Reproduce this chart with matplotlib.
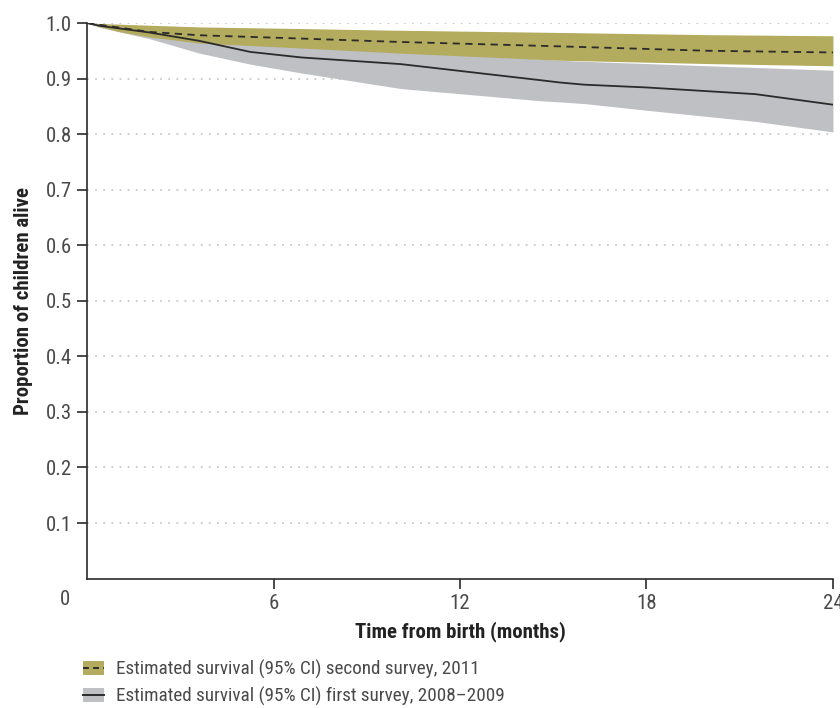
# Kaplan-Meier style survival curves, two surveys, with 95% CI bands

import matplotlib
matplotlib.use("Agg")
import matplotlib.pyplot as plt
from matplotlib.patches import Patch
from matplotlib.lines import Line2D
from matplotlib.legend_handler import HandlerTuple

plt.rcParams['font.family'] = ['Roboto Condensed', 'PT Sans Narrow', 'DejaVu Sans']

# second survey, 2011
months2 = [0, 1, 2, 3.6, 6.9, 10, 15.2, 20, 24]
surv2 = [1.0, 0.992, 0.984, 0.978, 0.972, 0.966, 0.958, 0.950, 0.947]
upper2 = [1.0, 0.998, 0.996, 0.993, 0.990, 0.987, 0.983, 0.979, 0.977]
lower2 = [1.0, 0.985, 0.975, 0.964, 0.955, 0.946, 0.933, 0.927, 0.923]

# first survey, 2008-2009
months1 = [0, 0.4, 2, 3.6, 5.25, 6.9, 10.1, 14.6, 15.2, 16, 18, 21.5, 24]
surv1 = [1.0, 0.995, 0.983, 0.968, 0.948, 0.938, 0.926, 0.897, 0.893, 0.889, 0.884, 0.872, 0.853]
upper1 = [1.0, 0.997, 0.99, 0.98, 0.972, 0.962, 0.952, 0.935, 0.933, 0.931, 0.927, 0.920, 0.915]
lower1 = [1.0, 0.992, 0.972, 0.946, 0.926, 0.910, 0.882, 0.860, 0.858, 0.855, 0.843, 0.823, 0.804]

x_ticks = [6, 12, 18, 24]
y_ticks = [0.1, 0.2, 0.3, 0.4, 0.5, 0.6, 0.7, 0.8, 0.9, 1.0]

olive = '#b3ab5d'
grey = '#bfc0c4'
dark = '#2b2b2b'
tick_col = '#4a4a4a'

fig = plt.figure(figsize=(8.4, 7.08), dpi=100)
ax = fig.add_axes([0.1036, 0.1828, 0.888, 0.7847])

for yv in y_ticks:
    ax.axhline(yv, color='#c8c8c8', lw=1.3, ls=(0, (1, 3.5)), zorder=0)

ax.fill_between(months1, lower1, upper1, color=grey, lw=0, zorder=1)
ax.fill_between(months2, lower2, upper2, color=olive, lw=0, zorder=2)
ax.plot(months1, surv1, color=dark, lw=1.3, zorder=3)
ax.plot(months2, surv2, color=dark, lw=1.3, ls=(0, (4, 3)), zorder=3)

ax.set_xlim(0, 24)
ax.set_ylim(0, 1.0)
ax.set_xticks(x_ticks)
ax.set_yticks(y_ticks)
ax.set_yticklabels([f"{v:.1f}" for v in y_ticks])
ax.tick_params(direction='out', length=7, width=1.2, color=dark,
               labelsize=15, labelcolor=tick_col, pad=4)
for s in ['top', 'right']:
    ax.spines[s].set_visible(False)
for s in ['left', 'bottom']:
    ax.spines[s].set_color(dark)
    ax.spines[s].set_linewidth(1.2)

ax.text(-0.0228, -0.02, '0', transform=ax.transAxes, ha='right', va='top',
        fontsize=15, color=tick_col)

ax.set_xlabel('Time from birth (months)', fontsize=15, fontweight='bold',
              color='#222222', labelpad=6)
ax.set_ylabel('Proportion of children alive', fontsize=15, fontweight='bold',
              color='#222222')
ax.yaxis.set_label_coords(-0.072, 0.5)

h2 = (Patch(facecolor=olive, edgecolor='none'), Line2D([], [], color=dark, lw=1.4, ls=(0, (3, 2.2))))
h1 = (Patch(facecolor=grey, edgecolor='none'), Line2D([], [], color=dark, lw=1.4))
fig.legend([h2, h1],
           ['Estimated survival (95% CI) second survey, 2011',
            'Estimated survival (95% CI) first survey, 2008\u20132009'],
           handler_map={tuple: HandlerTuple(ndivide=1, pad=0)},
           loc='upper left', bbox_to_anchor=(0.0895, 0.079), frameon=False,
           fontsize=13.8, handlelength=1.1, handleheight=0.72, handletextpad=0.62,
           labelspacing=0.4, labelcolor=tick_col, borderaxespad=0)

fig.savefig('out.png', dpi=100)
